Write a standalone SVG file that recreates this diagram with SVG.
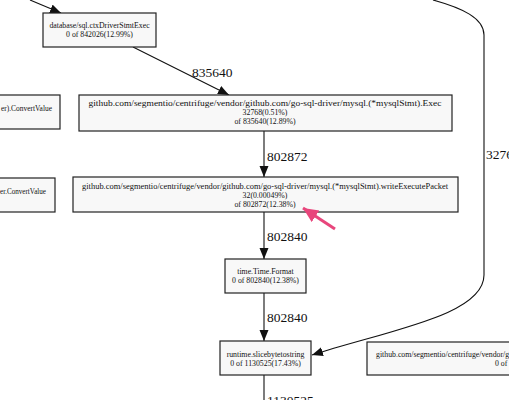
<svg xmlns="http://www.w3.org/2000/svg" width="509" height="400" viewBox="0 0 509 400">
<defs>
<style>
.box{fill:#f8f8f8;stroke:#222;stroke-width:1.2}
.nt{font-family:"Liberation Serif",serif;font-size:7.8px;fill:#111;text-anchor:middle}
.el{font-family:"Liberation Serif",serif;font-size:13.5px;fill:#111}
.edge{fill:none;stroke:#111;stroke-width:1.1}
</style>
<marker id="ah" markerUnits="userSpaceOnUse" markerWidth="12" markerHeight="10" refX="11" refY="4.5" orient="auto">
<path d="M0,0 L11,4.5 L0,9 Z" fill="#111"/>
</marker>
<marker id="pk" markerUnits="userSpaceOnUse" markerWidth="16" markerHeight="15" refX="15" refY="7" orient="auto">
<path d="M0,0 L15,7 L0,14 Z" fill="#e8467c"/>
</marker>
</defs>
<rect width="509" height="400" fill="#ffffff"/>

<g id="connectors">
<path class="edge" d="M30,0 L61,13" marker-end="url(#ah)"/>
<path class="edge" d="M133,47 L229,95" marker-end="url(#ah)"/>
<text class="el" x="192" y="77">835640</text>
<path class="edge" d="M264,131 L264,177" marker-end="url(#ah)"/>
<text class="el" x="267" y="161">802872</text>
<path class="edge" d="M264,212 L264,259" marker-end="url(#ah)"/>
<text class="el" x="267" y="241">802840</text>
<path class="edge" d="M264,293 L264,341" marker-end="url(#ah)"/>
<text class="el" x="267" y="322">802840</text>
<path class="edge" d="M264,375 L264,400"/>
<text class="el" x="267" y="405">1130525</text>
<path class="edge" d="M433,0 C462,8 484,18 484,35 L484,275 C484,315 390,330 312,355" marker-end="url(#ah)"/>
<text class="el" x="486" y="159">32768</text>
</g>

<g id="node-ctxDriverStmtExec">
<rect class="box" x="43" y="13" width="113" height="34"/>
<text class="nt" x="99.5" y="28">database/sql.ctxDriverStmtExec</text>
<text class="nt" x="99.5" y="37">0 of 842026(12.99%)</text>
</g>

<g id="node-convert1">
<rect class="box" x="-10" y="95" width="70" height="34"/>
<text class="nt" x="1" y="111" style="text-anchor:start" textLength="51" lengthAdjust="spacingAndGlyphs">er).ConvertValue</text>
</g>

<g id="node-exec">
<rect class="box" x="79" y="95" width="373" height="36"/>
<text class="nt" x="265" y="106" textLength="353" lengthAdjust="spacingAndGlyphs">github.com/segmentio/centrifuge/vendor/github.com/go-sql-driver/mysql.(*mysqlStmt).Exec</text>
<text class="nt" x="265" y="115">32768(0.51%)</text>
<text class="nt" x="265" y="124">of 835640(12.89%)</text>
</g>

<g id="node-convert2">
<rect class="box" x="-10" y="178" width="65" height="34"/>
<text class="nt" x="0" y="194" style="text-anchor:start" textLength="46" lengthAdjust="spacingAndGlyphs">er.ConvertValue</text>
</g>

<g id="node-writeExecutePacket">
<rect class="box" x="73" y="177" width="385" height="35"/>
<text class="nt" x="265" y="189" textLength="366" lengthAdjust="spacingAndGlyphs">github.com/segmentio/centrifuge/vendor/github.com/go-sql-driver/mysql.(*mysqlStmt).writeExecutePacket</text>
<text class="nt" x="265" y="198">32(0.00049%)</text>
<text class="nt" x="265" y="207">of 802872(12.38%)</text>
</g>

<g id="node-timeFormat">
<rect class="box" x="225" y="259" width="81" height="34"/>
<text class="nt" x="265.5" y="274">time.Time.Format</text>
<text class="nt" x="265.5" y="283">0 of 802840(12.38%)</text>
</g>

<g id="node-slicebytetostring">
<rect class="box" x="220" y="341" width="91" height="34"/>
<text class="nt" x="265.5" y="357">runtime.slicebytetostring</text>
<text class="nt" x="265.5" y="366">0 of 1130525(17.43%)</text>
</g>

<g id="node-right">
<rect class="box" x="367" y="342" width="160" height="33"/>
<text class="nt" x="376" y="357" style="text-anchor:start">github.com/segmentio/centrifuge/vendor/github</text>
<text class="nt" x="495" y="366" style="text-anchor:start">0 of 1130525</text>
</g>

<path d="M335,229 L303,208" fill="none" stroke="#e8467c" stroke-width="3" marker-end="url(#pk)"/>
</svg>
